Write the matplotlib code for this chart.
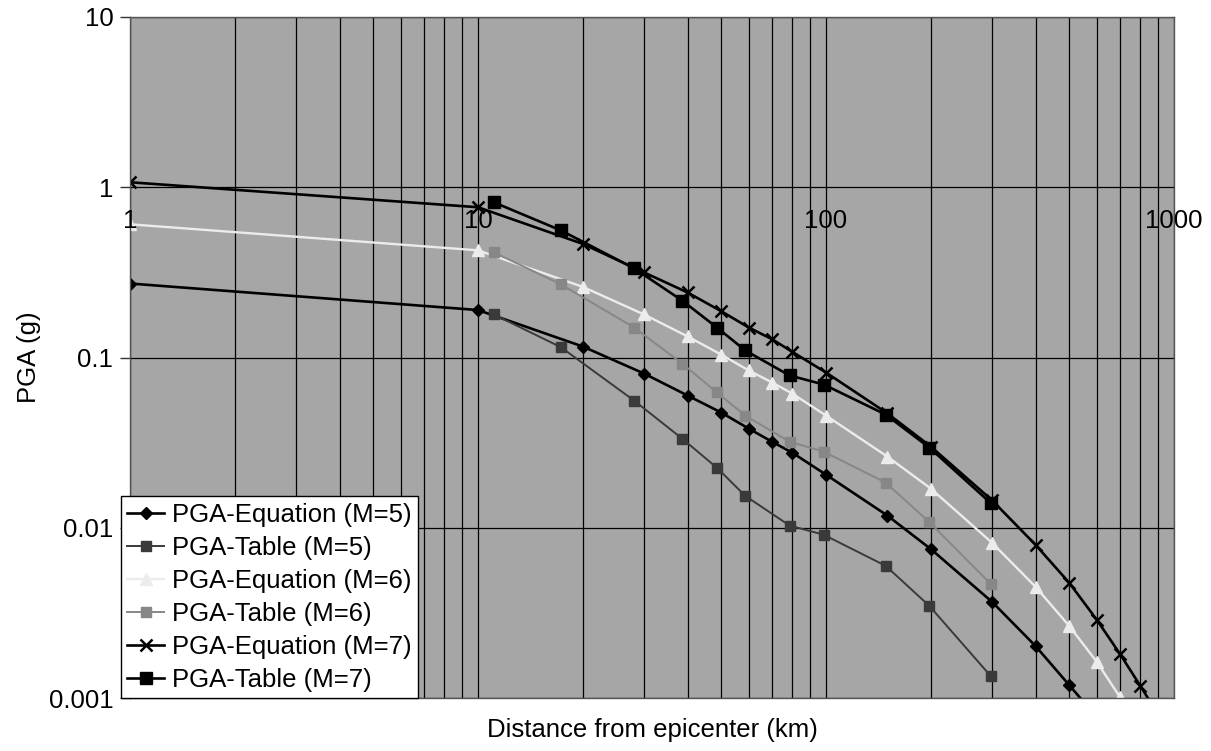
import matplotlib
matplotlib.use("Agg")
import matplotlib.pyplot as plt

plt.rcParams['font.family'] = ['Liberation Sans', 'DejaVu Sans']

# Distances (km)
dist_eq = [1, 10, 20, 30, 40, 50, 60, 70, 80, 100, 150, 200, 300, 400, 500, 600, 700, 800, 900]
dist_tab = [11.1, 17.3, 28.1, 38.6, 48.6, 58.6, 78.6, 98.5, 148.5, 198, 297]

# PGA from the attenuation equation (g)
pga_eq_m5 = [0.272, 0.190, 0.116, 0.0805, 0.0598, 0.0475, 0.0382, 0.0320, 0.0276, 0.0205,
             0.0118, 0.0075, 0.00367, 0.00202, 0.00119, 0.00077]
pga_eq_m6 = [0.606, 0.426, 0.260, 0.179, 0.133, 0.104, 0.0839, 0.0713, 0.0614, 0.0456,
             0.0262, 0.0170, 0.00816, 0.0045, 0.00265, 0.00163, 0.00101, 0.00066]
pga_eq_m7 = [1.07, 0.763, 0.465, 0.316, 0.241, 0.187, 0.150, 0.128, 0.108, 0.0816,
             0.0470, 0.0300, 0.0145, 0.00794, 0.00475, 0.00288, 0.00181, 0.00118, 0.00080]

# PGA from the table (g)
pga_tab_m5 = [0.179, 0.115, 0.0558, 0.0334, 0.0225, 0.0154, 0.0103, 0.0091, 0.00597, 0.00348, 0.00135]
pga_tab_m6 = [0.415, 0.269, 0.150, 0.0922, 0.0623, 0.0456, 0.0320, 0.0280, 0.0184, 0.0108, 0.00469]
pga_tab_m7 = [0.816, 0.558, 0.334, 0.216, 0.150, 0.110, 0.0784, 0.0694, 0.0462, 0.0296, 0.0140]

x_ticks = [1, 10, 100, 1000]
x_tick_labels = ["1", "10", "100", "1000"]
y_ticks = [0.001, 0.01, 0.1, 1, 10]
y_tick_labels = ["0.001", "0.01", "0.1", "1", "10"]

FS = 18.5

fig = plt.figure(figsize=(12.11, 7.51), dpi=100)
ax = fig.add_axes([130 / 1211, 1 - 698 / 751, 1044 / 1211, 681 / 751])
ax.set_facecolor("#a6a6a6")
ax.set_xscale("log")
ax.set_yscale("log")
ax.set_xlim(1, 1000)
ax.set_ylim(0.001, 10)

# grid: every minor decade step on x, decades only on y
ax.grid(True, which="both", axis="x", color="black", lw=0.9)
ax.grid(True, which="major", axis="y", color="black", lw=0.9)
ax.set_axisbelow(True)

n = len(pga_eq_m5)
ax.plot(dist_eq[:n], pga_eq_m5, color="black", lw=1.9, marker="D", ms=6,
        label="PGA-Equation (M=5)")
ax.plot(dist_tab, pga_tab_m5, color="#3a3a3a", lw=1.4, marker="s", ms=7,
        label="PGA-Table (M=5)")
n = len(pga_eq_m6)
ax.plot(dist_eq[:n], pga_eq_m6, color="#ececec", lw=1.7, marker="^", ms=8,
        label="PGA-Equation (M=6)")
ax.plot(dist_tab, pga_tab_m6, color="#878787", lw=1.4, marker="s", ms=7,
        label="PGA-Table (M=6)")
ax.plot(dist_eq, pga_eq_m7, color="black", lw=1.9, marker="x", ms=8, mew=1.8,
        label="PGA-Equation (M=7)")
ax.plot(dist_tab, pga_tab_m7, color="black", lw=1.9, marker="s", ms=8,
        label="PGA-Table (M=7)")

# y axis
ax.set_yticks(y_ticks)
ax.set_yticklabels(y_tick_labels, fontsize=FS)
ax.yaxis.set_minor_locator(matplotlib.ticker.NullLocator())
ax.tick_params(axis="y", which="major", length=7, width=1, pad=5, color="#333333")

# x axis labels sit on the y = 1 line
ax.set_xticks(x_ticks)
ax.set_xticklabels([])
ax.tick_params(axis="x", which="both", length=0)
for xv, lab in zip(x_ticks, x_tick_labels):
    ax.annotate(lab, xy=(xv, 1), xytext=(0, -16), textcoords="offset points",
                ha="center", va="top", fontsize=FS, annotation_clip=False)

for sp in ax.spines.values():
    sp.set_color("#555555")
    sp.set_linewidth(1.0)

ax.set_ylabel("PGA (g)", fontsize=FS, va="center")
ax.yaxis.set_label_coords(-0.097, 0.5)
ax.set_xlabel("Distance from epicenter (km)", fontsize=FS, va="center")
ax.xaxis.set_label_coords(0.5, -0.047)

leg = ax.legend(loc="lower left", bbox_to_anchor=(-0.009, 0.0), borderaxespad=0,
                fontsize=FS, frameon=True, fancybox=False, framealpha=1,
                edgecolor="black", handlelength=1.45, handletextpad=0.3,
                labelspacing=0.35, borderpad=0.25)
leg.get_frame().set_linewidth(1.0)

fig.savefig("out.png", dpi=100)
